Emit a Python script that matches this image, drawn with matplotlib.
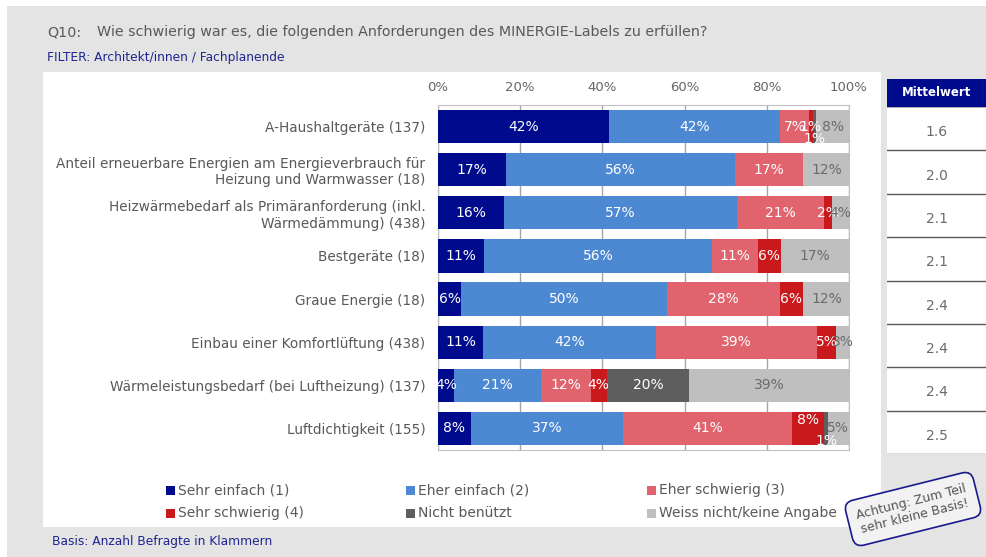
import matplotlib
matplotlib.use("Agg")
import matplotlib.pyplot as plt
from matplotlib.patches import Rectangle
import numpy as np

# categories and answers (percent of respondents)
categories = [
    "A-Haushaltgeräte (137)",
    "Anteil erneuerbare Energien am Energieverbrauch für\nHeizung und Warmwasser (18)",
    "Heizwärmebedarf als Primäranforderung (inkl.\nWärmedämmung) (438)",
    "Bestgeräte (18)",
    "Graue Energie (18)",
    "Einbau einer Komfortlüftung (438)",
    "Wärmeleistungsbedarf (bei Luftheizung) (137)",
    "Luftdichtigkeit (155)",
]
sehr_einfach = [41.6, 16.6, 16.0, 11.1, 5.6, 11.0, 4.0, 8.0]
eher_einfach = [41.6, 55.6, 56.8, 55.6, 50.0, 42.0, 21.1, 37.1]
eher_schwierig = [7.0, 16.6, 21.2, 11.1, 27.6, 39.2, 12.1, 41.0]
sehr_schwierig = [1.0, 0.0, 1.8, 5.6, 5.6, 4.7, 3.8, 7.9]
nicht_benuetzt = [0.8, 0.0, 0.0, 0.0, 0.0, 0.0, 20.1, 0.8]
weiss_nicht = [8.0, 11.6, 4.2, 16.6, 11.6, 3.1, 38.9, 5.2]
mittelwert = [1.6, 2.0, 2.1, 2.1, 2.4, 2.4, 2.4, 2.5]

series_names = ["Sehr einfach (1)", "Eher einfach (2)", "Eher schwierig (3)",
                "Sehr schwierig (4)", "Nicht benützt", "Weiss nicht/keine Angabe"]
colors = ["#000a8c", "#4d89d2", "#e0636e", "#c9191c", "#5e5e5e", "#bfbfbf"]

W, H = 987, 557
plt.rcParams['font.family'] = ['DejaVu Sans']
fig = plt.figure(figsize=(W / 100, H / 100), dpi=100)
fig.patch.set_facecolor("white")

def fx(x):
    return x / W

def fy(y):
    return 1 - y / H

# background panels
fig.patches.append(Rectangle((fx(7), 0), 1, fy(6), transform=fig.transFigure,
                             facecolor="#e4e4e4", edgecolor="none", zorder=-5))
fig.patches.append(Rectangle((fx(43), fy(527)), fx(881 - 43), (527 - 72) / H,
                             transform=fig.transFigure, facecolor="white",
                             edgecolor="none", zorder=-4))

# titles
fig.text(fx(47), fy(32), "Q10:", fontsize=10.3, color="#595959", va="center")
fig.text(fx(97), fy(32), "Wie schwierig war es, die folgenden Anforderungen des MINERGIE-Labels zu erfüllen?",
         fontsize=10.3, color="#595959", va="center")
fig.text(fx(47), fy(57), "FILTER: Architekt/innen / Fachplanende", fontsize=8.8,
         color="#1f2590", va="center")
fig.text(fx(52), fy(541), "Basis: Anzahl Befragte in Klammern", fontsize=8.8,
         color="#1f2590", va="center")

# stacked bar chart
ax = fig.add_axes([fx(438), fy(450), fx(849 - 438), (450 - 105) / H])
data = [sehr_einfach, eher_einfach, eher_schwierig, sehr_schwierig, nicht_benuetzt, weiss_nicht]
y = np.arange(len(categories))
left = np.zeros(len(categories))
label_offset = {(0, 4): 0.29, (7, 3): -0.2, (7, 4): 0.29}
for j, vals in enumerate(data):
    vals = np.array(vals)
    ax.barh(y, vals, left=left, height=0.77, color=colors[j], zorder=3)
    for i, v in enumerate(vals):
        if v > 0:
            tc = "#6b6b6b" if j == 5 else "white"
            ax.text(left[i] + v / 2, i + label_offset.get((i, j), 0), f"{v:.0f}%",
                    ha="center", va="center", color=tc, fontsize=10, zorder=4)
    left += vals

ax.set_xlim(0, 100)
ax.set_ylim(len(categories) - 0.5, -0.5)
ax.set_xticks([0, 20, 40, 60, 80, 100])
ax.set_xticklabels(["0%", "20%", "40%", "60%", "80%", "100%"])
ax.xaxis.tick_top()
ax.tick_params(axis="x", length=0, pad=8, labelsize=9.5, labelcolor="#666666")
ax.set_yticks(y)
ax.set_yticklabels(categories)
ax.tick_params(axis="y", length=0, pad=9, labelsize=9.8, labelcolor="#595959")
ax.grid(axis="x", color="#a6a6a6", linewidth=1, zorder=0)
for s in ax.spines.values():
    s.set_color("#c0c0c0")

# Mittelwert table on the right
fig.patches.append(Rectangle((fx(887), fy(107)), 1 - fx(887), 28 / H,
                             transform=fig.transFigure, facecolor="#000a8c",
                             edgecolor="none"))
fig.text(fx(937), fy(93), "Mittelwert", fontsize=8.5, color="white",
         fontweight="bold", ha="center", va="center")
axt = fig.add_axes([fx(887), fy(454), 1 - fx(887), (454 - 107) / H])
axt.set_xlim(0, 1)
axt.set_ylim(len(mittelwert), 0)
axt.axis("off")
axt.add_patch(Rectangle((0, 0), 1, len(mittelwert), facecolor="white", edgecolor="none"))
axt.axhline(0, color="#a0a0a0", linewidth=1.2)
for i, m in enumerate(mittelwert):
    axt.text(0.5, i + 0.58, f"{m:.1f}", ha="center", va="center", fontsize=10,
             color="#6b6b6b")
    axt.axhline(i + 1, color="#595959", linewidth=1)

# legend
legend_pos = [(166, 490), (406, 490), (647, 490), (166, 513), (406, 513), (647, 513)]
for (lx, ly), name, c in zip(legend_pos, series_names, colors):
    fig.patches.append(Rectangle((fx(lx), fy(ly + 4.5)), 9 / W, 9 / H,
                                 transform=fig.transFigure, facecolor=c, edgecolor="none"))
    fig.text(fx(lx + 12), fy(ly), name, fontsize=10, color="#595959", va="center")

# note
fig.text(fx(913), fy(509), "Achtung: Zum Teil\nsehr kleine Basis!", fontsize=9,
         color="#555555", ha="center", va="center", rotation=14, linespacing=1.15,
         bbox=dict(boxstyle="round,pad=0.75", facecolor="#f2f2f2", edgecolor="#1a1a8c",
                   linewidth=1.2))

fig.savefig("out.png", dpi=100)
